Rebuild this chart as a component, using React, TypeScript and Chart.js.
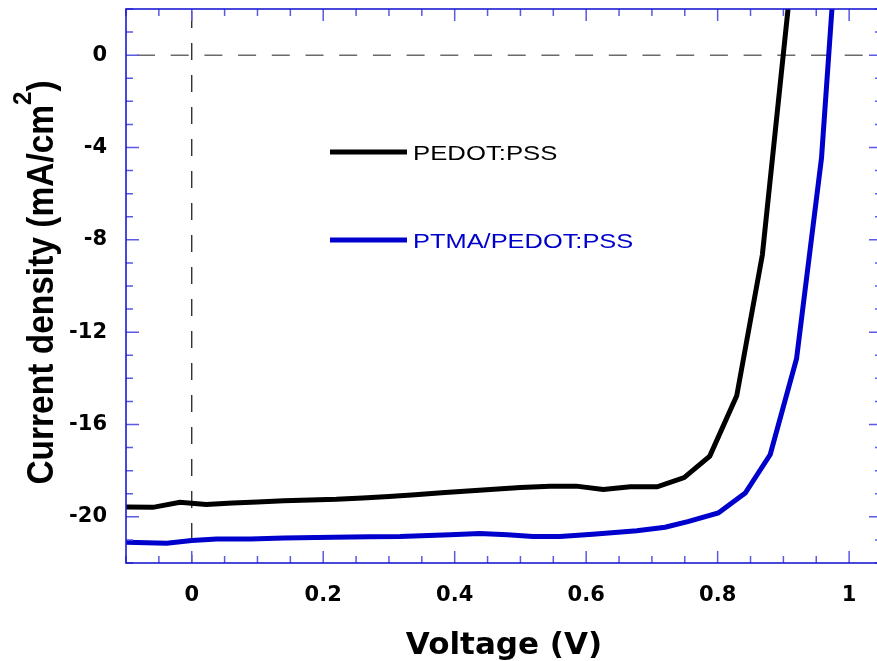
import React, { useEffect, useRef } from 'react';
import { Chart, registerables } from 'chart.js';

Chart.register(...registerables);

// ---- Data ----
const seriesNames = ['PEDOT:PSS', 'PTMA/PEDOT:PSS'];
const seriesColors = ['#000000', '#0000cc'];

const pedotVoltage = [
  -0.1, -0.059, -0.018, 0.022, 0.062, 0.1, 0.14, 0.18, 0.22, 0.26, 0.3, 0.34, 0.38,
  0.42, 0.46, 0.5, 0.545, 0.585, 0.626, 0.667, 0.708, 0.749, 0.788, 0.829, 0.868, 0.91,
];
const pedotCurrent = [
  -19.57, -19.59, -19.37, -19.47, -19.4, -19.36, -19.3, -19.27, -19.24, -19.18, -19.12, -19.04, -18.96,
  -18.88, -18.8, -18.73, -18.67, -18.67, -18.82, -18.7, -18.7, -18.3, -17.37, -14.76, -8.65, 2.8,
];

const ptmaVoltage = [
  -0.1, -0.038, 0.0, 0.038, 0.089, 0.14, 0.215, 0.27, 0.317, 0.393, 0.438, 0.48,
  0.519, 0.56, 0.61, 0.677, 0.72, 0.756, 0.801, 0.842, 0.88, 0.92, 0.958, 0.98,
];
const ptmaCurrent = [
  -21.1, -21.14, -21.03, -20.96, -20.96, -20.92, -20.88, -20.86, -20.85, -20.78, -20.72, -20.78,
  -20.85, -20.85, -20.75, -20.6, -20.45, -20.2, -19.83, -18.97, -17.3, -13.15, -4.45, 4.5,
];

const xTickValues = [0, 0.2, 0.4, 0.6, 0.8, 1];
const yTickValues = [0, -4, -8, -12, -16, -20];
const xRange = [-0.1, 1.05];
const yRange = [-22, 2];
const xMinorStep = 0.05;
const xMajorStep = 0.2;
const yMinorStep = 1;
const yMajorStep = 4;

const xTitle = 'Voltage (V)';
const yTitleMain = 'Current density (mA/cm';
const yTitleSup = '2';
const yTitleEnd = ')';

const FRAME_COLOR = '#1c1cd4';
const TICK_COLOR = '#5a5ae2';

const framePlugin = {
  id: 'frameTicks',
  beforeDatasetsDraw(chart: any) {
    const { ctx, chartArea, scales } = chart;
    const x0 = scales.x.getPixelForValue(0);
    const y0 = scales.y.getPixelForValue(0);
    ctx.save();
    ctx.strokeStyle = '#6a6a6a';
    ctx.lineWidth = 1.5;
    ctx.setLineDash([18, 15.7]);
    ctx.beginPath();
    ctx.moveTo(chartArea.left + 11, y0);
    ctx.lineTo(chartArea.right, y0);
    ctx.stroke();
    ctx.strokeStyle = '#222222';
    ctx.lineWidth = 1.3;
    ctx.setLineDash([17, 15]);
    ctx.beginPath();
    ctx.moveTo(x0, chartArea.top + 2);
    ctx.lineTo(x0, chartArea.bottom);
    ctx.stroke();
    ctx.restore();
  },
  afterDraw(chart: any) {
    const { ctx, chartArea, scales } = chart;
    const { left, right, top, bottom } = chartArea;
    ctx.save();
    ctx.setLineDash([]);
    ctx.strokeStyle = TICK_COLOR;
    ctx.lineWidth = 1.5;
    const kx0 = Math.ceil(xRange[0] / xMinorStep - 1e-9);
    const kx1 = Math.floor(xRange[1] / xMinorStep + 1e-9);
    const ratioX = Math.round(xMajorStep / xMinorStep);
    for (let k = kx0; k <= kx1; k++) {
      const px = scales.x.getPixelForValue(k * xMinorStep);
      const major = k % ratioX === 0;
      const len = major ? 12 : 7;
      ctx.beginPath();
      ctx.moveTo(px, bottom);
      ctx.lineTo(px, bottom - len);
      ctx.moveTo(px, top);
      ctx.lineTo(px, top + len);
      ctx.stroke();
    }
    const ky0 = Math.ceil(yRange[0] / yMinorStep);
    const ky1 = Math.floor(yRange[1] / yMinorStep);
    const ratioY = Math.round(yMajorStep / yMinorStep);
    for (let k = ky0; k <= ky1; k++) {
      const py = scales.y.getPixelForValue(k * yMinorStep);
      const major = k % ratioY === 0;
      const len = major ? 13 : 7;
      ctx.beginPath();
      ctx.moveTo(left, py);
      ctx.lineTo(left + len, py);
      ctx.moveTo(right, py);
      ctx.lineTo(right - len, py);
      ctx.stroke();
    }
    ctx.strokeStyle = FRAME_COLOR;
    ctx.lineWidth = 1.6;
    ctx.strokeRect(left, top, right - left, bottom - top);

    // legend
    const items = [
      { y: top + 143, name: seriesNames[0], color: seriesColors[0], sx: 1.225 },
      { y: top + 231, name: seriesNames[1], color: seriesColors[1], sx: 1.21 },
    ];
    const lx = left + 204;
    items.forEach((it) => {
      ctx.strokeStyle = it.color;
      ctx.lineWidth = 5;
      ctx.beginPath();
      ctx.moveTo(lx, it.y);
      ctx.lineTo(lx + 77, it.y);
      ctx.stroke();
      ctx.save();
      ctx.fillStyle = it.color;
      ctx.font = '21px "Liberation Sans", Arial, sans-serif';
      ctx.textBaseline = 'alphabetic';
      ctx.textAlign = 'left';
      ctx.translate(lx + 83, it.y + 8);
      ctx.scale(it.sx, 1);
      ctx.fillText(it.name, 0, 0);
      ctx.restore();
    });

    // y axis title (rotated, with superscript)
    const mainFont = 'bold 33.5px "Liberation Sans", Arial, sans-serif';
    const supFont = 'bold 24px "Liberation Sans", Arial, sans-serif';
    ctx.save();
    ctx.fillStyle = '#000';
    ctx.textBaseline = 'alphabetic';
    ctx.textAlign = 'left';
    ctx.font = mainFont;
    const wMain = ctx.measureText(yTitleMain).width;
    const wEnd = ctx.measureText(yTitleEnd).width;
    ctx.font = supFont;
    const wSup = ctx.measureText(yTitleSup).width;
    const total = wMain + wSup + wEnd;
    const cy = (top + bottom) / 2 - 3.5;
    ctx.translate(53, cy);
    ctx.rotate(-Math.PI / 2);
    ctx.scale(1, 1.11);
    let cx = -total / 2;
    ctx.font = mainFont;
    ctx.fillText(yTitleMain, cx, 0);
    cx += wMain;
    ctx.font = supFont;
    ctx.fillText(yTitleSup, cx, -20);
    cx += wSup;
    ctx.font = mainFont;
    ctx.fillText(yTitleEnd, cx, 0);
    ctx.restore();

    ctx.restore();
  },
};

export default function App() {
  const canvasRef = useRef<HTMLCanvasElement | null>(null);

  useEffect(() => {
    const canvas = canvasRef.current;
    if (!canvas) return;
    const tickFont = { family: '"DejaVu Sans", sans-serif', weight: 'bold' as const, size: 21 };
    const chart = new Chart(canvas, {
      type: 'line',
      data: {
        datasets: [
          {
            label: seriesNames[0],
            data: pedotVoltage.map((v, i) => ({ x: v, y: pedotCurrent[i] })),
            borderColor: seriesColors[0],
            backgroundColor: seriesColors[0],
            borderWidth: 5,
            pointRadius: 0,
            tension: 0,
            fill: false,
            clip: 0,
          },
          {
            label: seriesNames[1],
            data: ptmaVoltage.map((v, i) => ({ x: v, y: ptmaCurrent[i] })),
            borderColor: seriesColors[1],
            backgroundColor: seriesColors[1],
            borderWidth: 5,
            pointRadius: 0,
            tension: 0,
            fill: false,
            clip: 0,
          },
        ],
      },
      options: {
        responsive: false,
        animation: false,
        devicePixelRatio: 1,
        layout: { padding: { top: 9, right: 1, left: 0, bottom: 0 } },
        plugins: {
          legend: { display: false },
          tooltip: { enabled: false },
        },
        scales: {
          x: {
            type: 'linear',
            min: xRange[0],
            max: xRange[1],
            grid: { display: false, drawTicks: false },
            border: { display: false },
            ticks: {
              font: tickFont,
              color: '#000',
              padding: 20,
              maxRotation: 0,
              autoSkip: false,
              callback: (v: any) => String(v),
            },
            afterBuildTicks: (s: any) => {
              s.ticks = xTickValues.map((value) => ({ value }));
            },
            afterFit: (s: any) => {
              s.height = 98;
              s.paddingLeft = 0;
              s.paddingRight = 0;
            },
            title: {
              display: true,
              text: xTitle,
              color: '#000',
              font: { family: '"DejaVu Sans", sans-serif', weight: 'bold', size: 31, lineHeight: 1 },
              padding: { top: 0, bottom: 0 },
            },
          },
          y: {
            type: 'linear',
            min: yRange[0],
            max: yRange[1],
            grid: { display: false, drawTicks: false },
            border: { display: false },
            ticks: {
              font: tickFont,
              color: '#000',
              padding: 19,
              autoSkip: false,
              callback: (v: any) => String(v),
            },
            afterBuildTicks: (s: any) => {
              s.ticks = yTickValues.map((value) => ({ value }));
            },
            afterFit: (s: any) => {
              s.width = 126;
              s.paddingTop = 0;
              s.paddingBottom = 0;
            },
            title: { display: false },
          },
        },
      },
      plugins: [framePlugin],
    });
    return () => chart.destroy();
  }, []);

  return (
    <div
      style={{
        position: 'fixed',
        left: 0,
        top: 0,
        width: 877,
        height: 661,
        overflow: 'hidden',
        background: '#fff',
      }}
    >
      <canvas ref={canvasRef} width={883} height={661} style={{ display: 'block' }} />
    </div>
  );
}
